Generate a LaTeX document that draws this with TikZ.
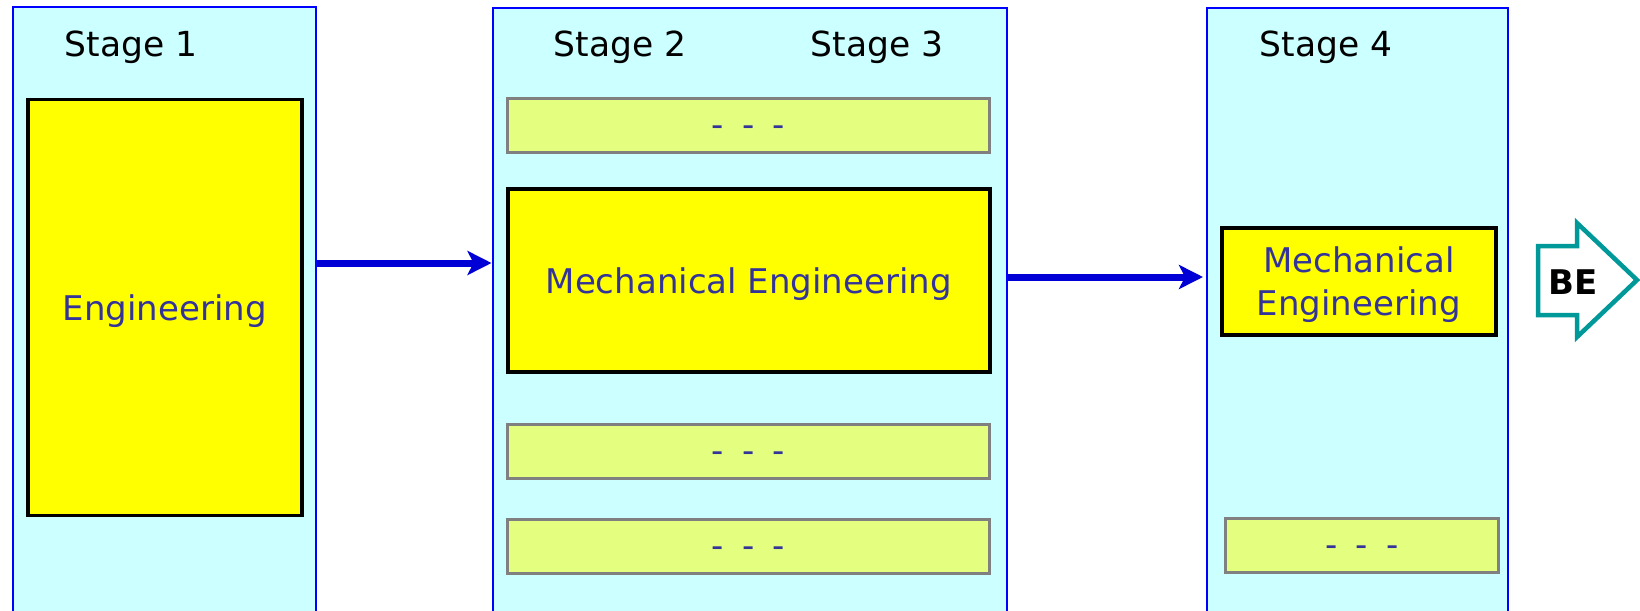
\documentclass[tikz,border=0pt]{standalone}
\usepackage{fontspec}
\setmainfont{DejaVu Sans}
\usetikzlibrary{arrows.meta}
\definecolor{panelfill}{RGB}{204,255,255}
\definecolor{panelline}{RGB}{0,0,255}
\definecolor{boxtext}{RGB}{51,51,153}
\definecolor{mainyellow}{RGB}{255,255,0}
\definecolor{paleyellow}{RGB}{228,255,128}
\definecolor{boxgray}{RGB}{128,128,128}
\definecolor{flowblue}{RGB}{0,0,214}
\definecolor{tealline}{RGB}{0,153,153}
\newcommand{\gapdashes}{\raisebox{-10.5pt}[0pt][0pt]{\spaceskip=0.54em\relax - - -}}
\tikzset{
  panel/.style={draw=panelline, fill=panelfill, line width=2pt, anchor=north west, inner sep=0pt},
  stagelabel/.style={font=\fontsize{34.5}{40}\selectfont, text=black, inner sep=0pt},
  mainbox/.style={draw=black, fill=mainyellow, line width=3.5pt, anchor=north west, inner sep=0pt,
    font=\fontsize{34}{43}\selectfont, text=boxtext, align=center, text depth=0pt},
  minorbox/.style={draw=boxgray, fill=paleyellow, line width=3pt, anchor=north west, inner sep=0pt,
    font=\fontsize{34}{40}\selectfont, text=boxtext},
  flow/.style={draw=flowblue, line width=7pt, -{Stealth[length=24pt, width=24pt, inset=6pt]}},
}
\begin{document}
\begin{tikzpicture}[x=1pt, y=-1pt]
  \useasboundingbox (0,0) rectangle (1640,610);
  \clip (0,0) rectangle (1640,610);
  \fill[white] (0,0) rectangle (1640,610);

  % columns
  \node[panel, minimum width=303pt, minimum height=640pt] (p1) at (11.5,6.5) {};
  \node[panel, minimum width=514pt, minimum height=640pt] (p2) at (491.5,7) {};
  \node[panel, minimum width=301pt, minimum height=640pt] (p3) at (1206,7) {};

  % headings
  \node[stagelabel] (s1) at (131,47) {Stage 1};
  \node[stagelabel] (s2) at (620,47) {Stage 2};
  \node[stagelabel] (s3) at (877,47) {Stage 3};
  \node[stagelabel] (s4) at (1326,47) {Stage 4};

  % stage 1
  \node[mainbox, minimum width=274pt, minimum height=416pt] (eng) at (26,97.5) {Engineering};

  % stages 2 and 3
  \node[minorbox, minimum width=482pt, minimum height=54pt] (d1) at (506,97) {\gapdashes};
  \node[mainbox, minimum width=482pt, minimum height=183pt] (me) at (506,187) {Mechanical Engineering};
  \node[minorbox, minimum width=482pt, minimum height=54pt] (d2) at (506,423) {\gapdashes};
  \node[minorbox, minimum width=482pt, minimum height=54pt] (d3) at (506,518) {\gapdashes};

  % stage 4
  \node[mainbox, minimum width=274pt, minimum height=107pt] (me4) at (1220,226) {Mechanical\\Engineering};
  \node[minorbox, minimum width=273pt, minimum height=54pt] (d4) at (1224,517) {\gapdashes};

  % flow between columns
  \coordinate (y1) at (0,263);
  \coordinate (y2) at (0,277);
  \draw[flow] (p1.east |- y1) -- (p2.west |- y1);
  \draw[flow] (p2.east |- y2) -- ([xshift=-3pt]p3.west |- y2);

  % outcome arrow
  \draw[tealline, line width=4.5pt, fill=white, line join=miter]
    (1538,246) -- (1577,246) -- (1577,223) -- (1637,280) -- (1577,337)
    -- (1577,315) -- (1538,315) -- cycle;
  \node[font=\bfseries\fontsize{34}{40}\selectfont, text=black] (be) at (1573,282) {BE};
\end{tikzpicture}
\end{document}
